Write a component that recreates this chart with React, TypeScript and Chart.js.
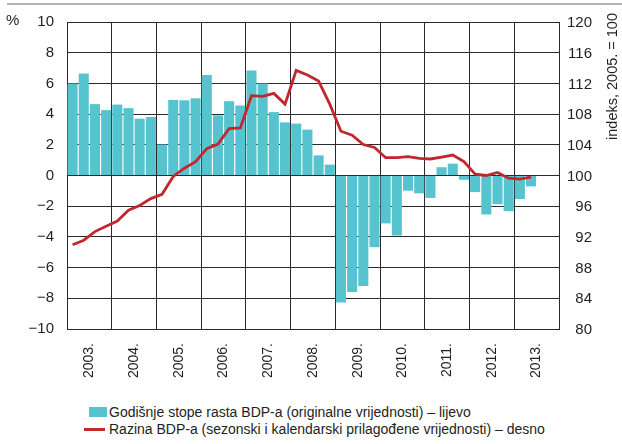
import React, { useEffect, useRef } from "react";
import { Chart, registerables } from "chart.js";
Chart.register(...registerables);

const years = ["2003.", "2004.", "2005.", "2006.", "2007.", "2008.", "2009.", "2010.", "2011.", "2012.", "2013."];
const quarterNames = ["Q1", "Q2", "Q3", "Q4"];
const quarterLabels = years.flatMap((y) => quarterNames.map((q) => y + q));

// Godišnje stope rasta BDP-a (%), 2003Q1 – 2013Q2
const growthRate = [
  6.0, 6.65, 4.65, 4.26,
  4.62, 4.39, 3.7, 3.81,
  2.02, 4.92, 4.9, 5.03,
  6.54, 3.92, 4.84, 4.56,
  6.84, 6.0, 4.13, 3.46,
  3.38, 2.99, 1.31, 0.71,
  -8.28, -7.59, -7.2, -4.67,
  -3.12, -3.91, -0.99, -1.16,
  -1.46, 0.54, 0.77, -0.28,
  -1.08, -2.54, -1.87, -2.32,
  -1.53, -0.71,
];

// Razina BDP-a (indeks, 2005. = 100)
const gdpLevel = [
  90.97, 91.57, 92.69, 93.38,
  94.06, 95.48, 96.09, 96.99,
  97.55, 99.87, 100.95, 101.8,
  103.5, 104.1, 106.1, 106.2,
  110.4, 110.3, 110.7, 109.3,
  113.7, 113.1, 112.3, 109.3,
  105.77, 105.25, 104.04, 103.65,
  102.32, 102.32, 102.45, 102.23,
  102.15, 102.41, 102.67, 101.81,
  100.17, 100.0, 100.39, 99.65,
  99.52, 99.78,
];

const leftTicks = { min: -10, max: 10, step: 2 };
const rightTicks = { min: 80, max: 120, step: 4 };

const barLabel = "Godišnje stope rasta BDP-a (originalne vrijednosti) – lijevo";
const lineLabel = "Razina BDP-a (sezonski i kalendarski prilagođene vrijednosti) – desno";
const leftUnit = "%";
const rightTitle = "indeks, 2005. = 100";

const FONT = "'Liberation Sans', Arial, Helvetica, sans-serif";
const TEXT = "#231f20";
const TEAL = "#56c4cf";
const RED = "#c1272d";
const GRID = "#2a2a2a";

const extrasPlugin = {
  id: "extras",
  afterDraw(chart: any) {
    const ctx = chart.ctx;
    ctx.save();
    ctx.strokeStyle = "#9a9a9a";
    ctx.lineWidth = 1.5;
    ctx.beginPath();
    ctx.moveTo(7, 4);
    ctx.lineTo(622, 4);
    ctx.stroke();
    ctx.fillStyle = TEXT;
    // right-axis tick labels, right-aligned
    ctx.font = `15px ${FONT}`;
    ctx.textAlign = "right";
    ctx.textBaseline = "middle";
    const y1 = chart.scales.y1;
    y1.ticks.forEach((t: any) => {
      ctx.fillText(String(t.value), 592, y1.getPixelForValue(t.value) + 1);
    });
    ctx.textAlign = "left";
    ctx.fillText(leftUnit, 6, 21);
    ctx.font = `14.5px ${FONT}`;
    ctx.translate(613, 13);
    ctx.rotate(-Math.PI / 2);
    ctx.textAlign = "right";
    ctx.textBaseline = "middle";
    ctx.fillText(rightTitle, 0, 0);
    ctx.restore();
  },
};

export default function App() {
  const ref = useRef<HTMLCanvasElement>(null);
  useEffect(() => {
    if (!ref.current) return;
    const font = { family: FONT, size: 15 };
    const chart = new Chart(ref.current, {
      type: "bar",
      data: {
        labels: quarterLabels,
        datasets: [
          {
            type: "line",
            label: lineLabel,
            data: gdpLevel,
            yAxisID: "y1",
            xAxisID: "x",
            borderColor: RED,
            borderWidth: 2.8,
            pointRadius: 0,
            tension: 0,
            order: 1,
          } as any,
          {
            type: "bar",
            label: barLabel,
            data: growthRate,
            yAxisID: "y",
            xAxisID: "x",
            backgroundColor: TEAL,
            barPercentage: 0.9,
            categoryPercentage: 1,
            order: 2,
          },
        ],
      },
      options: {
        responsive: false,
        devicePixelRatio: 1,
        animation: false,
        layout: { padding: { top: 13, left: 0, right: 0, bottom: 0 } },
        plugins: { legend: { display: false }, tooltip: { enabled: false } },
        scales: {
          x: { type: "category", display: false, offset: true },
          xYear: {
            type: "category",
            labels: years,
            position: "bottom",
            offset: true,
            grid: { offset: true, color: GRID, drawTicks: false, lineWidth: 1 },
            border: { display: true, color: GRID },
            ticks: { maxRotation: 90, minRotation: 90, padding: 14, autoSkip: false, font: { family: FONT, size: 14 }, color: TEXT },
            afterFit: (s: any) => { s.height = 60; },
          },
          y: {
            position: "left",
            min: leftTicks.min,
            max: leftTicks.max,
            ticks: {
              stepSize: leftTicks.step,
              padding: 13,
              font,
              color: TEXT,
              callback: (v: any) => String(v).replace("-", "\u2212"),
            },
            grid: { color: GRID, drawTicks: false, lineWidth: 1 },
            border: { color: GRID },
            afterFit: (s: any) => { s.width = 67; },
          },
          y1: {
            position: "right",
            min: rightTicks.min,
            max: rightTicks.max,
            ticks: { stepSize: rightTicks.step, display: false },
            grid: { drawOnChartArea: false, drawTicks: false },
            border: { color: GRID },
            afterFit: (s: any) => { s.width = 63; },
          },
        },
      } as any,
      plugins: [extrasPlugin],
    });
    return () => chart.destroy();
  }, []);

  return (
    <div style={{ position: "absolute", left: 0, top: 0, width: 622, height: 444, background: "#fff", fontFamily: FONT, color: TEXT }}>
      <canvas ref={ref} width={622} height={389} style={{ display: "block" }} />
      <div style={{ position: "absolute", left: 89, top: 407, width: 18, height: 10, background: TEAL }} />
      <div style={{ position: "absolute", left: 109, top: 403, fontSize: 14, lineHeight: "18px", whiteSpace: "nowrap" }}>{barLabel}</div>
      <div style={{ position: "absolute", left: 84, top: 428, width: 21, height: 3, background: RED }} />
      <div style={{ position: "absolute", left: 109, top: 420, fontSize: 14, lineHeight: "18px", whiteSpace: "nowrap" }}>{lineLabel}</div>
    </div>
  );
}
